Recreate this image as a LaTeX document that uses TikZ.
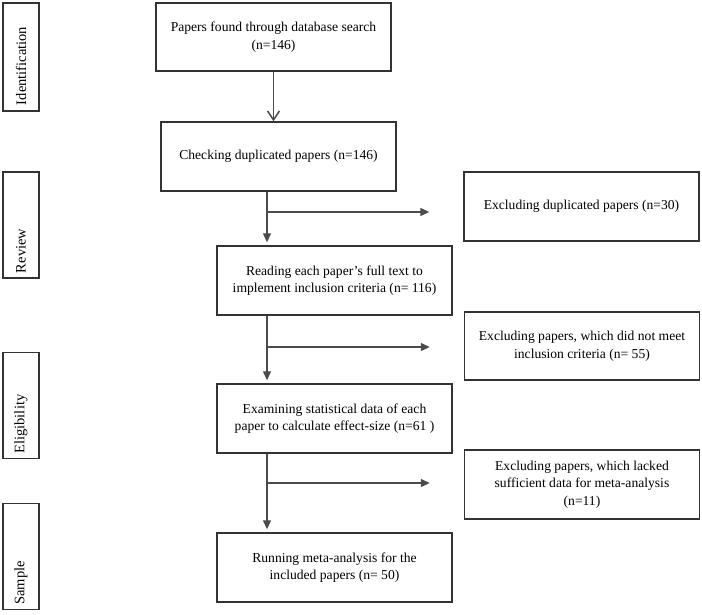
\documentclass[tikz,border=0pt]{standalone}
\usepackage{fontspec}
\setmainfont{Liberation Serif}
\usetikzlibrary{arrows.meta,positioning,calc}

\tikzset{
  stepbox/.style={draw=black!80, line width=1.4pt, align=center, inner sep=2pt,
    minimum width=235pt, minimum height=69pt, font=\fontsize{13.6}{17.5}\selectfont},
  stagebox/.style={draw=black!80, line width=1.4pt, rotate=90, align=left,
    minimum height=36pt, inner xsep=5pt, text width=96pt, font=\fontsize{14.5}{16}\selectfont},
  flow/.style={draw=black!70, line width=1.3pt},
}

\begin{document}
\begin{tikzpicture}[x=1pt, y=-1pt]
\useasboundingbox (0,0) rectangle (702,614);

% stages on the left
\node[stagebox, minimum width=108pt] (ident) at (21,57) {Identification};
\node[stagebox, minimum width=106pt] (review) at (21,225) {Review};
\node[stagebox, minimum width=105pt] (elig) at (21,405.5) {Eligibility};
\node[stagebox, minimum width=105pt] (sample) at (21,556.5) {Sample};

% main flow
\node[stepbox, minimum height=68pt] (found) at (273.5,37) {Papers found through database search\\(n=146)};
\node[stepbox] (check) at (278.5,156.5) {Checking duplicated papers (n=146)};
\node[stepbox] (read) at (334.5,280.5) {Reading each paper’s full text to\\implement inclusion criteria (n= 116)};
\node[stepbox] (exam) at (334.5,418.5) {Examining statistical data of each\\paper to calculate effect-size (n=61 )};
\node[stepbox] (run) at (334.5,567.5) {Running meta-analysis for the\\included papers (n= 50)};

% excluded papers
\node[stepbox] (excldup) at (581.5,206.5) {Excluding duplicated papers (n=30)};
\node[stepbox, minimum height=68pt] (exclcrit) at (582,346) {Excluding papers, which did not meet\\inclusion criteria (n= 55)};
\node[stepbox] (excldata) at (582,484.5) {Excluding papers, which lacked\\sufficient data for meta-analysis\\(n=11)};

% connectors
\coordinate (spine) at (267,0);
\draw[flow, -{Straight Barb[length=9pt, width=12pt, line width=1.5pt]}] (found.south) -- (found.south |- check.north);

\foreach \from/\to/\y/\excl in {check/read/212/excldup, read/exam/347/exclcrit, exam/run/483/excldata}{
  \draw[flow, -{Triangle[length=9pt, width=8pt]}] (\from.south -| spine) -- ($(\to.north -| spine)+(0,-3)$);
  \coordinate (\excl-tip) at ($(\excl.west |- 0,\y)+(-34,0)$);
  \draw[flow, -{Triangle[length=9pt, width=8pt]}] (spine |- \excl-tip) -- (\excl-tip);
}
\end{tikzpicture}
\end{document}
